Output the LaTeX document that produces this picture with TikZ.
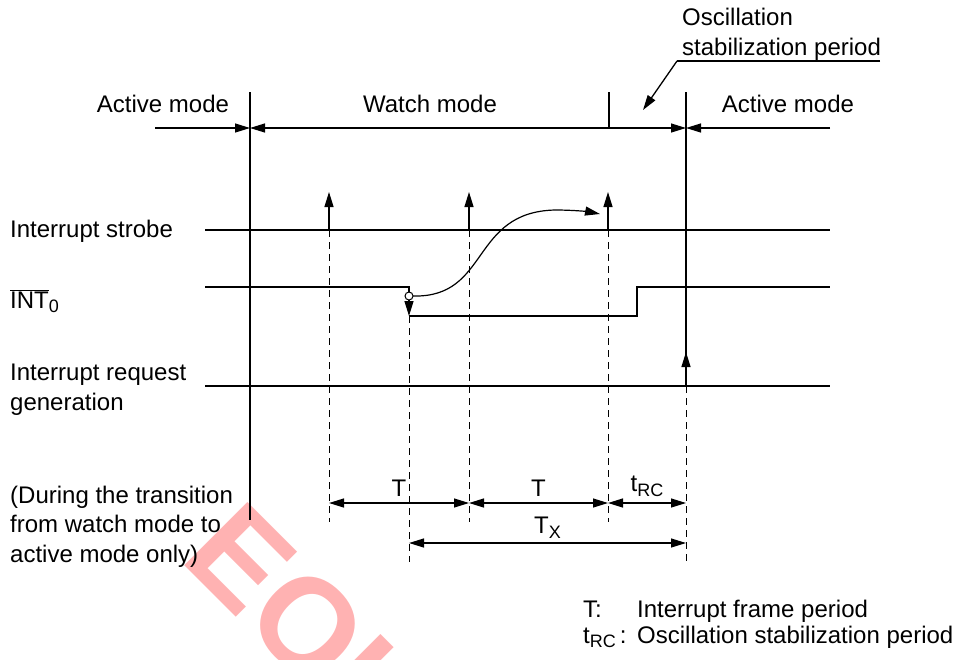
\documentclass[tikz,border=0pt]{standalone}
\usepackage{fontspec}
\setmainfont{Liberation Sans}
\usetikzlibrary{arrows.meta}
\newcommand{\lowsub}[1]{\raisebox{-0.35ex}{\fontsize{18}{18}\selectfont #1}}
\tikzset{
  txt/.style={inner sep=0pt, font=\fontsize{24}{29.5}\selectfont},
  sig/.style={line width=1.3pt},
  guide/.style={line width=1pt, dash pattern=on 7pt off 5pt},
  tip/.style={-{Triangle[length=15pt,width=9pt]}},
  dim/.style={line width=1.2pt, {Triangle[length=15pt,width=9pt]}-{Triangle[length=15pt,width=9pt]}}
}
\begin{document}
\begin{tikzpicture}[x=1pt,y=-1pt]
  \useasboundingbox (0,0) rectangle (961,659);
  % watermark
  \node[text=red!30, inner sep=0pt, rotate=-45, font=\fontsize{130}{130}\selectfont\bfseries] (wm) at (305,622) {EOL};

  % mode bar
  \draw[sig] (250,92) -- (250,520);
  \draw[sig] (686,92) -- (686,386);
  \draw[sig] (609,92) -- (609,128);
  \draw[sig,tip] (155,128) -- (250,128);
  \draw[dim] (250,128) -- (686,128);
  \draw[sig,tip] (830,128) -- (686,128);
  \node[txt, anchor=base] (act1) at (163,112) {Active mode};
  \node[txt, anchor=base] (watch) at (430,112) {Watch mode};
  \node[txt, anchor=base] (act2) at (788,112) {Active mode};
  \node[txt, anchor=base west] (osc1) at (682,25) {Oscillation};
  \node[txt, anchor=base west] (osc2) at (682,55) {stabilization period};
  \draw[sig] (880,61) -- (677,61);
  \draw[sig,tip] (677,61) -- (643,110);

  % signal names
  \node[txt, anchor=base west] (strobe) at (10,237) {Interrupt strobe};
  \node[txt, anchor=base west] (int0) at (10,308) {$\overline{\mbox{INT}}$\lowsub{0}};
  \node[txt, anchor=base west] (req1) at (10,380) {Interrupt request};
  \node[txt, anchor=base west] (req2) at (10,410) {generation};
  \node[txt, anchor=base west] (note1) at (10,503) {(During the transition};
  \node[txt, anchor=base west] (note2) at (10,532) {from watch mode to};
  \node[txt, anchor=base west] (note3) at (10,562) {active mode only)};

  % signals
  \draw[sig] (205,230) -- (830,230);
  \draw[sig] (205,386) -- (830,386);
  \draw[sig] (205,287) -- (409,287) -- (409,292);
  \draw[sig] (409,316) -- (637,316) -- (637,287) -- (830,287);
  \draw[sig,tip] (409,300) -- (409,316);
  \draw[line width=1pt, fill=white] (409,296) circle (4);
  \draw[line width=1.2pt,tip] (413,296) .. controls (490,298) and (470,212) .. (555,210)
        .. controls (575,210) and (590,212) .. (600,214);
  \foreach \x in {329,469,608}
    \draw[sig,tip] (\x,230) -- (\x,192);
  \draw[sig,tip] (686,386) -- (686,352);

  % timing guides
  \foreach \x in {329,469,608}
    \draw[guide] (\x,230) -- (\x,522);
  \draw[guide] (409,316) -- (409,562);
  \draw[guide] (686,386) -- (686,562);

  % periods
  \draw[dim] (329,503) -- (469,503) node[txt, midway, above=6pt] (t1) {T};
  \draw[dim] (469,503) -- (608,503) node[txt, midway, above=6pt] (t2) {T};
  \draw[dim] (608,503) -- (686,503) node[txt, midway, above=6pt] (trc) {t\lowsub{RC}};
  \draw[dim] (409,543) -- (686,543) node[txt, midway, above=4pt] (tx) {T\lowsub{X}};

  % legend
  \node[txt, anchor=base west] (leg1) at (583,617) {T:};
  \node[txt, anchor=base west] (leg1b) at (637,617) {Interrupt frame period};
  \node[txt, anchor=base west] (leg2) at (583,643) {t\lowsub{RC}\,:};
  \node[txt, anchor=base west] (leg2b) at (637,643) {Oscillation stabilization period};
\end{tikzpicture}
\end{document}
